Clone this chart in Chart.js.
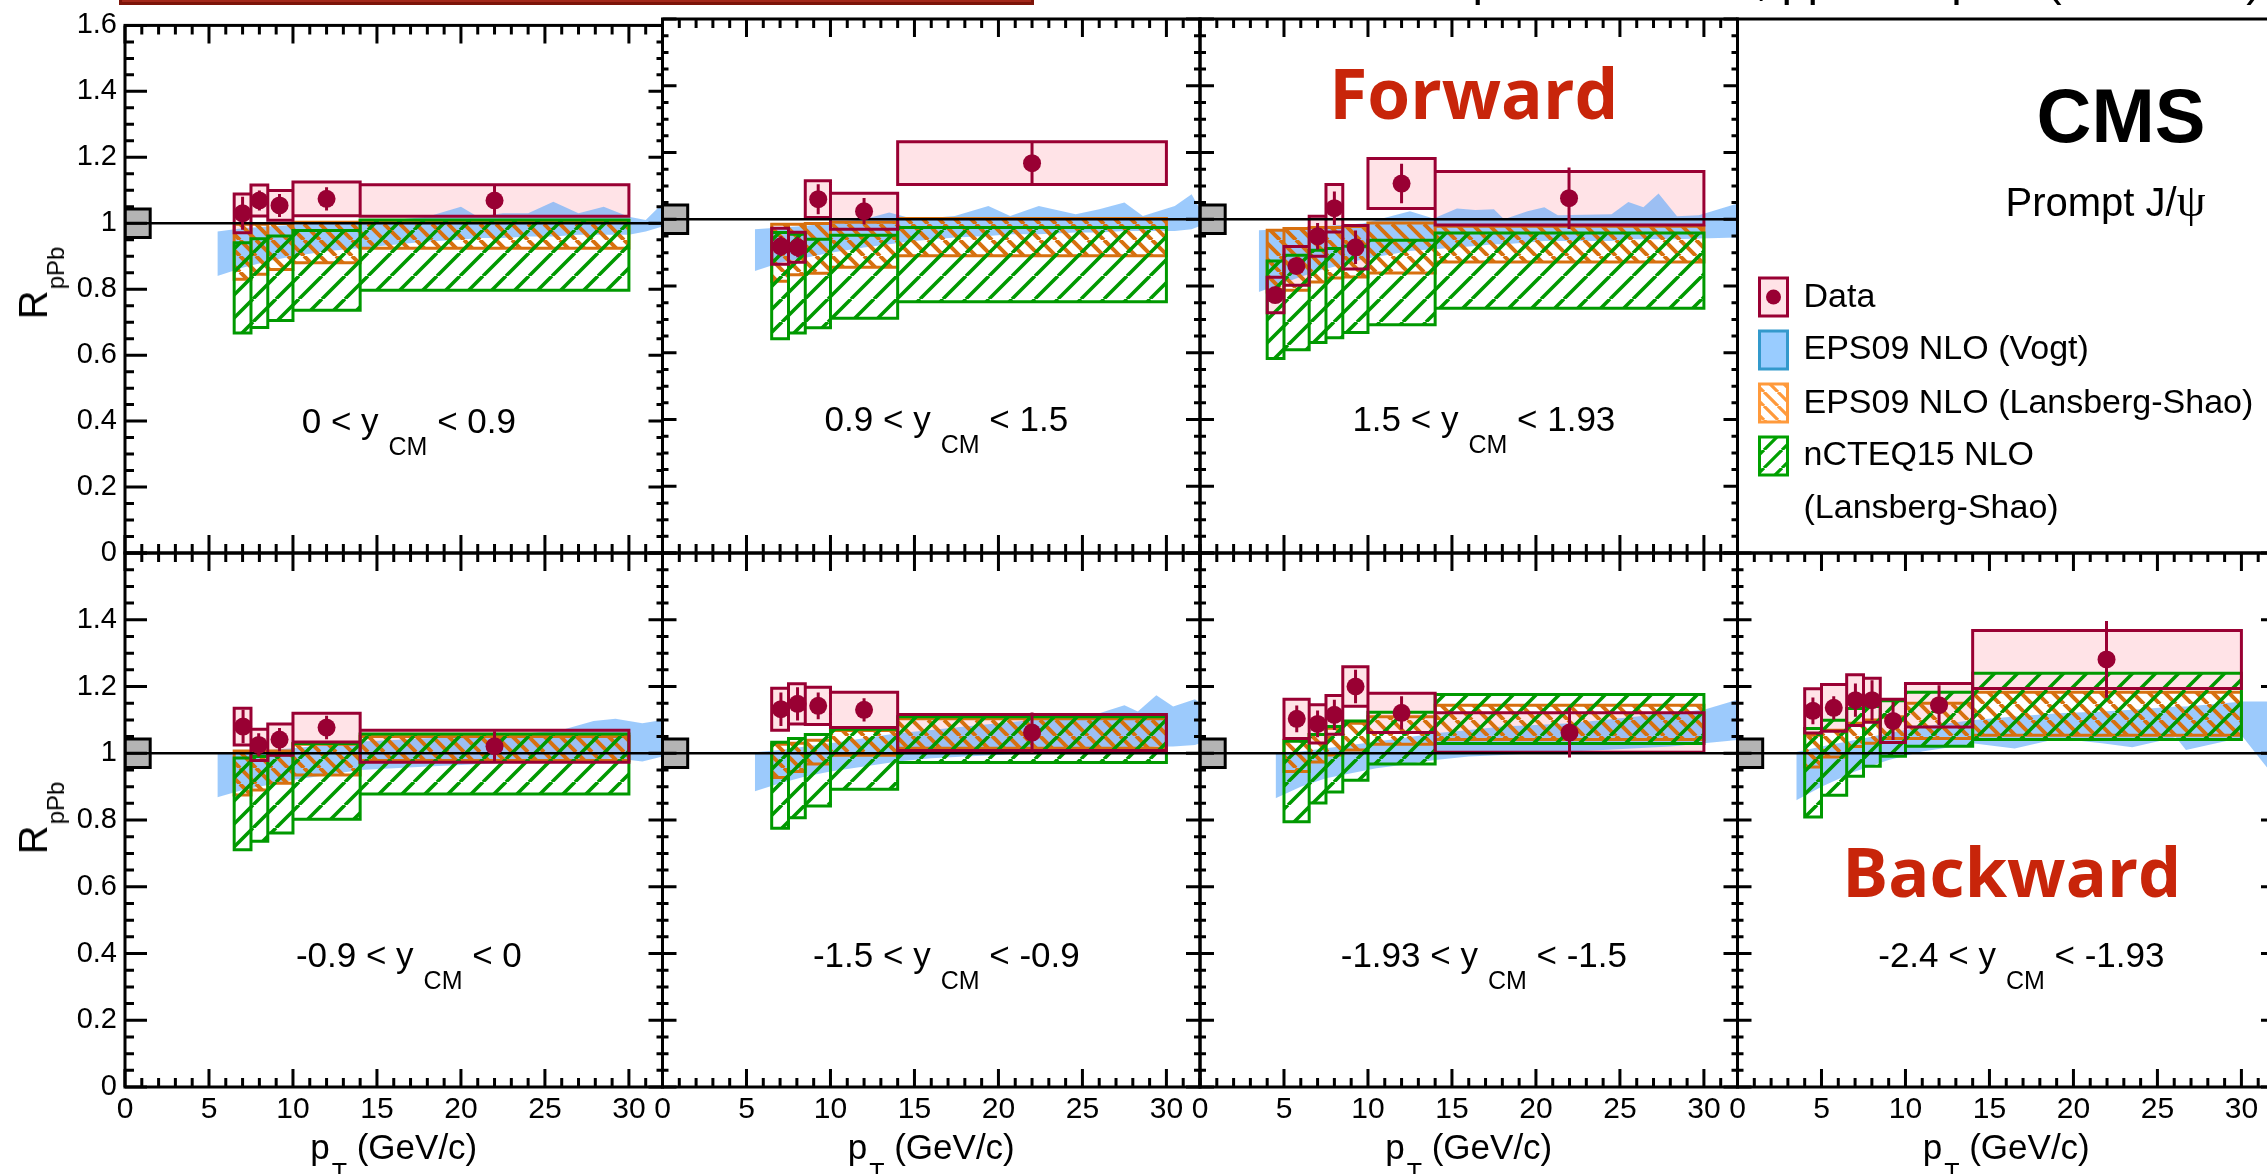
<!DOCTYPE html>
<html>
<head>
<meta charset="utf-8">
<script src="https://cdn.jsdelivr.net/npm/chart.js@4.4.1/dist/chart.umd.min.js"></script>
<style>
  html, body { margin: 0; padding: 0; background: #fff; overflow: hidden; }
  #page { position: relative; width: 2267px; height: 1174px; overflow: hidden; background: #fff; }
  #page canvas { position: absolute; left: 0; top: 0; }
  .t { position: absolute; white-space: nowrap; color: #000; }
  .sub { position: relative; }
</style>
</head>
<body>
<div id="page"></div>
<script>
// ---------- axis ticks / labels ----------
const xTickLabels = ['0', '5', '10', '15', '20', '25', '30'];
const yTickLabelsTop = ['0', '0.2', '0.4', '0.6', '0.8', '1', '1.2', '1.4', '1.6'];
const yTickLabelsBottom = ['0', '0.2', '0.4', '0.6', '0.8', '1', '1.2', '1.4'];
const yCmRanges = [['0', '0.9'], ['0.9', '1.5'], ['1.5', '1.93'],
                   ['-0.9', '0'], ['-1.5', '-0.9'], ['-1.93', '-1.5'], ['-2.4', '-1.93']];
const legendLabels = ['Data', 'EPS09 NLO (Vogt)', 'EPS09 NLO (Lansberg-Shao)', 'nCTEQ15 NLO', '(Lansberg-Shao)'];

// global uncertainty box drawn at low pT, around R = 1
const globalBoxPt = [0, 1.5];
const globalUnc = 0.043;
const unityLevel = 1;

// ---------- 0 < yCM < 0.9 ----------
const edges1 = [6.5, 7.5, 8.5, 10, 14, 30];
const pt1 = [7.0, 8.0, 9.2, 12.0, 22.0];
const r1 = [1.030, 1.069, 1.054, 1.074, 1.069];
const stat1 = [0.05, 0.03, 0.035, 0.035, 0.05];
const syst1 = [0.059, 0.047, 0.045, 0.051, 0.048];
const lsLo1 = [0.83, 0.845, 0.86, 0.88, 0.924];
const lsHi1 = [0.997, 0.997, 0.999, 1.003, 1.008];
const nctLo1 = [0.667, 0.684, 0.705, 0.736, 0.797];
const nctHi1 = [0.941, 0.953, 0.961, 0.978, 1.01];
const vogtPt1 = [5.5, 7, 8.5, 10, 12, 14, 16, 18, 20, 21, 22.5, 24, 25.5, 27, 28.5, 30, 31, 32];
const vogtLo1 = [0.84, 0.865, 0.885, 0.9, 0.915, 0.925, 0.935, 0.945, 0.95, 0.955, 0.955, 0.96, 0.96, 0.965, 0.965, 0.965, 0.975, 0.99];
const vogtHi1 = [0.975, 0.985, 0.99, 0.995, 1.0, 1.005, 1.01, 1.02, 1.05, 1.02, 1.03, 1.03, 1.065, 1.03, 1.05, 1.02, 1.01, 1.06];

// ---------- 0.9 < yCM < 1.5 ----------
const edges2 = [6.5, 7.5, 8.5, 10, 14, 30];
const pt2 = [7.05, 8.05, 9.27, 12.0, 22.0];
const r2 = [0.919, 0.916, 1.06, 1.024, 1.168];
const stat2 = [0.03, 0.03, 0.045, 0.04, 0.065];
const syst2 = [0.054, 0.045, 0.055, 0.054, 0.064];
const lsLo2 = [0.814, 0.834, 0.838, 0.856, 0.891];
const lsHi2 = [0.985, 0.985, 0.987, 0.991, 1.002];
const nctLo2 = [0.642, 0.659, 0.675, 0.703, 0.753];
const nctHi2 = [0.96, 0.955, 0.94, 0.952, 0.975];
const vogtPt2 = [5.5, 7, 8.5, 10, 12, 13.5, 15, 17.4, 19.4, 20.7, 22.4, 24.6, 26, 27.5, 28.6, 30.5, 31.5, 32];
const vogtLo2 = [0.845, 0.87, 0.885, 0.9, 0.915, 0.925, 0.935, 0.945, 0.95, 0.955, 0.955, 0.96, 0.96, 0.965, 0.965, 0.965, 0.97, 0.98];
const vogtHi2 = [0.97, 0.975, 0.98, 0.99, 1.0, 1.02, 1.0, 1.01, 1.04, 1.01, 1.04, 1.015, 1.03, 1.05, 1.01, 1.04, 1.075, 1.03];

// ---------- 1.5 < yCM < 1.93 ----------
const edges3 = [4, 5, 6.5, 7.5, 8.5, 10, 14, 30];
const pt3 = [4.48, 5.74, 7.0, 8.0, 9.26, 12.0, 21.97];
const r3 = [0.773, 0.860, 0.949, 1.033, 0.916, 1.107, 1.063];
const stat3 = [0.02, 0.02, 0.04, 0.05, 0.05, 0.059, 0.092];
const syst3 = [0.053, 0.058, 0.06, 0.071, 0.065, 0.075, 0.08];
const lsLo3 = [0.782, 0.787, 0.812, 0.824, 0.827, 0.839, 0.872];
const lsHi3 = [0.967, 0.972, 0.975, 0.975, 0.978, 0.989, 0.979];
const nctLo3 = [0.583, 0.609, 0.631, 0.645, 0.661, 0.684, 0.733];
const nctHi3 = [0.875, 0.892, 0.907, 0.912, 0.919, 0.937, 0.959];
const vogtPt3 = [3.5, 5, 7, 9.7, 12.5, 13.9, 15.3, 16.4, 17.5, 18.1, 19.5, 20.5, 21.3, 24.5, 25.5, 26.4, 27.3, 28.4, 29.7, 32];
const vogtLo3 = [0.782, 0.81, 0.845, 0.88, 0.905, 0.91, 0.915, 0.92, 0.925, 0.925, 0.93, 0.935, 0.935, 0.935, 0.94, 0.94, 0.94, 0.94, 0.942, 0.945];
const vogtHi3 = [0.967, 0.97, 0.978, 0.987, 1.024, 1.002, 1.032, 1.028, 1.03, 1.0, 1.024, 1.036, 1.012, 1.015, 1.052, 1.036, 1.077, 1.009, 1.012, 1.047];

// ---------- -0.9 < yCM < 0 ----------
const edges4 = [6.5, 7.5, 8.5, 10, 14, 30];
const pt4 = [7.03, 7.96, 9.2, 12.0, 22.0];
const r4 = [1.08, 1.025, 1.041, 1.077, 1.021];
const stat4 = [0.05, 0.035, 0.035, 0.035, 0.045];
const syst4 = [0.055, 0.047, 0.047, 0.043, 0.048];
const lsLo4 = [0.875, 0.89, 0.91, 0.935, 0.978];
const lsHi4 = [1.007, 1.007, 1.007, 1.027, 1.05];
const nctLo4 = [0.711, 0.736, 0.761, 0.802, 0.878];
const nctHi4 = [0.986, 0.99, 0.995, 1.029, 1.058];
const vogtPt4 = [5.5, 7, 8.5, 10, 12, 14, 16, 18, 20, 22, 24, 26, 27.9, 29.2, 30.8, 32];
const vogtLo4 = [0.868, 0.89, 0.905, 0.92, 0.935, 0.95, 0.955, 0.96, 0.965, 0.97, 0.975, 0.975, 0.98, 0.985, 0.975, 0.99];
const vogtHi4 = [1.0, 1.005, 1.01, 1.015, 1.025, 1.035, 1.04, 1.045, 1.05, 1.055, 1.06, 1.07, 1.097, 1.103, 1.09, 1.1];

// ---------- -1.5 < yCM < -0.9 ----------
const edges5 = [6.5, 7.5, 8.5, 10, 14, 30];
const pt5 = [7.05, 8.04, 9.27, 12.0, 22.0];
const r5 = [1.132, 1.148, 1.142, 1.13, 1.062];
const stat5 = [0.05, 0.05, 0.04, 0.035, 0.06];
const syst5 = [0.063, 0.06, 0.056, 0.053, 0.054];
const lsLo5 = [0.927, 0.945, 0.968, 0.994, 1.015];
const lsHi5 = [1.027, 1.03, 1.039, 1.068, 1.103];
const nctLo5 = [0.775, 0.807, 0.842, 0.892, 0.972];
const nctHi5 = [1.033, 1.044, 1.056, 1.072, 1.109];
const vogtPt5 = [5.5, 7, 8.5, 10, 12, 14, 16, 18, 20, 22, 24, 26, 27.5, 28.3, 29.4, 30.4, 31.7, 32];
const vogtLo5 = [0.886, 0.91, 0.93, 0.945, 0.96, 0.975, 0.985, 0.99, 0.995, 1.0, 1.005, 1.01, 1.015, 1.015, 1.02, 1.02, 1.025, 1.03];
const vogtHi5 = [1.003, 1.01, 1.02, 1.03, 1.045, 1.06, 1.07, 1.08, 1.09, 1.1, 1.11, 1.12, 1.144, 1.125, 1.174, 1.14, 1.162, 1.15];

// ---------- -1.93 < yCM < -1.5 ----------
const edges6 = [5, 6.5, 7.5, 8.5, 10, 14, 30];
const pt6 = [5.76, 7.0, 8.0, 9.26, 12.0, 22.0];
const r6 = [1.103, 1.088, 1.115, 1.2, 1.121, 1.062];
const stat6 = [0.04, 0.04, 0.045, 0.05, 0.05, 0.075];
const syst6 = [0.059, 0.057, 0.058, 0.059, 0.059, 0.059];
const lsLo6 = [0.945, 0.974, 0.995, 1.01, 1.027, 1.041];
const lsHi6 = [1.039, 1.056, 1.075, 1.09, 1.109, 1.144];
const nctLo6 = [0.795, 0.851, 0.884, 0.919, 0.968, 1.029];
const nctHi6 = [1.036, 1.056, 1.08, 1.097, 1.123, 1.176];
const vogtPt6 = [4.5, 6, 7.5, 9, 10.5, 12, 14, 16, 18, 20, 22, 24, 26, 28, 30, 32];
const vogtLo6 = [0.865, 0.9, 0.925, 0.94, 0.955, 0.965, 0.98, 0.99, 0.995, 1.0, 1.005, 1.01, 1.015, 1.02, 1.03, 1.04];
const vogtHi6 = [1.0, 1.005, 1.015, 1.025, 1.035, 1.045, 1.06, 1.07, 1.08, 1.085, 1.09, 1.1, 1.11, 1.12, 1.13, 1.16];

// ---------- -2.4 < yCM < -1.93 ----------
const edges7 = [4, 5, 6.5, 7.5, 8.5, 10, 14, 30];
const pt7 = [4.49, 5.73, 7.02, 8.01, 9.26, 12.0, 21.97];
const r7 = [1.127, 1.136, 1.159, 1.159, 1.097, 1.144, 1.281];
const stat7 = [0.04, 0.035, 0.05, 0.06, 0.057, 0.06, 0.115];
const syst7 = [0.066, 0.07, 0.076, 0.066, 0.065, 0.065, 0.087];
const lsLo7 = [0.959, 0.989, 1.02, 1.03, 1.044, 1.044, 1.054];
const lsHi7 = [1.054, 1.069, 1.09, 1.1, 1.109, 1.15, 1.183];
const nctLo7 = [0.809, 0.874, 0.931, 0.961, 0.991, 1.021, 1.041];
const nctHi7 = [1.074, 1.099, 1.134, 1.14, 1.157, 1.183, 1.24];
const vogtPt7 = [3.5, 5, 7, 9, 11, 14.1, 16.5, 19.1, 21.7, 23.5, 26.1, 26.7, 30.1, 31.5, 32];
const vogtLo7 = [0.859, 0.9, 0.945, 0.98, 1.005, 1.029, 1.014, 1.044, 1.03, 1.018, 1.048, 1.01, 1.048, 0.959, 0.93];
const vogtHi7 = [1.004, 1.02, 1.04, 1.06, 1.08, 1.1, 1.11, 1.12, 1.125, 1.13, 1.14, 1.14, 1.155, 1.155, 1.14];

// ---------- styling ----------
const RED = '#990033';
const PINK = '#ffe3e7';
const VOGT = 'rgba(95,170,250,0.62)';
const ORANGE = '#d7700f';
const GREEN = '#009900';

Chart.defaults.font.family = 'Liberation Sans';
Chart.defaults.color = '#000';
Chart.defaults.elements.point.radius = 0;
Chart.defaults.elements.point.hoverRadius = 0;
Chart.defaults.elements.line.tension = 0;
Chart.defaults.elements.line.borderCapStyle = 'square';
Chart.defaults.elements.line.borderJoinStyle = 'miter';

function hatch(color, spacing, width, dir) {
  const c = document.createElement('canvas');
  c.width = c.height = spacing;
  const g = c.getContext('2d');
  g.strokeStyle = color;
  g.lineWidth = width;
  g.beginPath();
  for (let k = -1; k <= 1; k++) {
    if (dir > 0) { g.moveTo(k * spacing, spacing); g.lineTo((k + 1) * spacing, 0); }
    else { g.moveTo(k * spacing, 0); g.lineTo((k + 1) * spacing, spacing); }
  }
  g.stroke();
  return g.createPattern(c, 'repeat');
}
const orangeHatch = hatch(ORANGE, 16, 4, -1);
const greenHatch = hatch(GREEN, 23, 3.6, 1);
const orangeLegendHatch = hatch('#ff9a3c', 14, 3.2, -1);
const greenLegendHatch = hatch('#00a000', 18, 3.2, 1);

// stepped edge over the bins, used as fill boundary
function steps(edges, vals) {
  const out = [];
  vals.forEach((v, i) => out.push({x: edges[i], y: v}, {x: edges[i + 1], y: v}));
  return out;
}
// one closed rectangle per bin, separated by gaps
function rects(edges, lo, hi) {
  const out = [];
  lo.forEach((l, i) => {
    const a = edges[i], b = edges[i + 1], h = hi[i];
    out.push({x: a, y: l}, {x: a, y: h}, {x: b, y: h}, {x: b, y: l}, {x: a, y: l}, {x: b, y: null});
  });
  return out;
}
function band(xs, lo, hi, color, order) {
  return [
    {data: xs.map((x, i) => ({x, y: hi[i]})), fill: '+1', backgroundColor: color, borderWidth: 0, borderColor: 'transparent', order},
    {data: xs.map((x, i) => ({x, y: lo[i]})), fill: false, borderWidth: 0, borderColor: 'transparent', order}
  ];
}
function binBand(edges, lo, hi, color, order) {
  return [
    {data: steps(edges, hi), fill: '+1', backgroundColor: color, borderWidth: 0, borderColor: 'transparent', order},
    {data: steps(edges, lo), fill: false, borderWidth: 0, borderColor: 'transparent', order}
  ];
}
function outline(edges, lo, hi, color, width, order) {
  return {data: rects(edges, lo, hi), fill: false, borderColor: color, borderWidth: width, order};
}

function panelDatasets(p) {
  const sLo = p.r.map((v, i) => v - p.syst[i]);
  const sHi = p.r.map((v, i) => v + p.syst[i]);
  const gLo = [unityLevel - globalUnc], gHi = [unityLevel + globalUnc];
  return [
    ...binBand(p.edges, sLo, sHi, PINK, 20),
    ...band(p.vPt, p.vLo, p.vHi, VOGT, 18),
    ...binBand(p.edges, p.lsLo, p.lsHi, orangeHatch, 16),
    outline(p.edges, p.lsLo, p.lsHi, ORANGE, 3, 15),
    ...binBand(p.edges, p.nLo, p.nHi, greenHatch, 14),
    outline(p.edges, p.nLo, p.nHi, GREEN, 3, 13),
    outline(p.edges, sLo, sHi, RED, 3, 12),
    ...binBand(globalBoxPt, gLo, gHi, '#b4b4b4', 11),
    outline(globalBoxPt, gLo, gHi, '#000', 3, 10),
    {data: [{x: 0, y: unityLevel}, {x: 32, y: unityLevel}], borderColor: '#000', borderWidth: 2.5, borderCapStyle: 'butt', order: 9},
    {data: p.pt.flatMap((x, i) => [{x, y: p.r[i] - p.stat[i]}, {x, y: p.r[i] + p.stat[i]}, {x, y: null}]),
     borderColor: RED, borderWidth: 3, borderCapStyle: 'butt', order: 8},
    {data: p.pt.map((x, i) => ({x, y: p.r[i]})), showLine: false, pointRadius: 9, pointHoverRadius: 9,
     pointBackgroundColor: RED, pointBorderWidth: 0, order: 7}
  ];
}

const panels = [
  {col: 0, row: 0, edges: edges1, pt: pt1, r: r1, stat: stat1, syst: syst1, lsLo: lsLo1, lsHi: lsHi1, nLo: nctLo1, nHi: nctHi1, vPt: vogtPt1, vLo: vogtLo1, vHi: vogtHi1, range: yCmRanges[0]},
  {col: 1, row: 0, edges: edges2, pt: pt2, r: r2, stat: stat2, syst: syst2, lsLo: lsLo2, lsHi: lsHi2, nLo: nctLo2, nHi: nctHi2, vPt: vogtPt2, vLo: vogtLo2, vHi: vogtHi2, range: yCmRanges[1]},
  {col: 2, row: 0, edges: edges3, pt: pt3, r: r3, stat: stat3, syst: syst3, lsLo: lsLo3, lsHi: lsHi3, nLo: nctLo3, nHi: nctHi3, vPt: vogtPt3, vLo: vogtLo3, vHi: vogtHi3, range: yCmRanges[2]},
  {col: 0, row: 1, edges: edges4, pt: pt4, r: r4, stat: stat4, syst: syst4, lsLo: lsLo4, lsHi: lsHi4, nLo: nctLo4, nHi: nctHi4, vPt: vogtPt4, vLo: vogtLo4, vHi: vogtHi4, range: yCmRanges[3]},
  {col: 1, row: 1, edges: edges5, pt: pt5, r: r5, stat: stat5, syst: syst5, lsLo: lsLo5, lsHi: lsHi5, nLo: nctLo5, nHi: nctHi5, vPt: vogtPt5, vLo: vogtLo5, vHi: vogtHi5, range: yCmRanges[4]},
  {col: 2, row: 1, edges: edges6, pt: pt6, r: r6, stat: stat6, syst: syst6, lsLo: lsLo6, lsHi: lsHi6, nLo: nctLo6, nHi: nctHi6, vPt: vogtPt6, vLo: vogtLo6, vHi: vogtHi6, range: yCmRanges[5]},
  {col: 3, row: 1, edges: edges7, pt: pt7, r: r7, stat: stat7, syst: syst7, lsLo: lsLo7, lsHi: lsHi7, nLo: nctLo7, nHi: nctHi7, vPt: vogtPt7, vLo: vogtLo7, vHi: vogtHi7, range: yCmRanges[6]}
];

// ---------- frame, ROOT-style inward ticks, legend symbols ----------
function drawLegend(ctx, a) {
  const x = a.left + 22, w = 28, h = 38;
  const tops = [259, 312, 365, 418].map(t => a.top + t);
  ctx.lineWidth = 3;
  ctx.fillStyle = PINK; ctx.fillRect(x, tops[0], w, h);
  ctx.strokeStyle = RED; ctx.strokeRect(x, tops[0], w, h);
  ctx.beginPath(); ctx.arc(x + w / 2, tops[0] + h / 2, 7.5, 0, Math.PI * 2); ctx.fillStyle = RED; ctx.fill();
  ctx.fillStyle = '#99ccff'; ctx.fillRect(x, tops[1], w, h);
  ctx.strokeStyle = '#3399cc'; ctx.strokeRect(x, tops[1], w, h);
  ctx.fillStyle = orangeLegendHatch; ctx.fillRect(x, tops[2], w, h);
  ctx.strokeStyle = '#ff9a3c'; ctx.strokeRect(x, tops[2], w, h);
  ctx.fillStyle = greenLegendHatch; ctx.fillRect(x, tops[3], w, h);
  ctx.strokeStyle = '#00a000'; ctx.strokeRect(x, tops[3], w, h);
}

const framePlugin = {
  id: 'frame',
  afterDatasetsDraw(chart, args, opts) {
    const {ctx, chartArea: a} = chart;
    const xs = chart.scales.x, ys = chart.scales.y;
    ctx.save();
    ctx.strokeStyle = '#000';
    ctx.lineWidth = 3;
    ctx.lineCap = 'butt';
    const t = opts.ticks;
    if (t) {
      ctx.beginPath();
      for (let v = 0; v <= 32; v += 1) {
        const px = xs.getPixelForValue(v), len = v % 5 === 0 ? t.x[0] : t.x[1];
        ctx.moveTo(px, a.top); ctx.lineTo(px, a.top + len);
        ctx.moveTo(px, a.bottom); ctx.lineTo(px, a.bottom - len);
      }
      for (let k = 0; k <= 32; k++) {
        const py = ys.getPixelForValue(k * 0.05), major = k % 4 === 0;
        ctx.moveTo(a.left, py); ctx.lineTo(a.left + (major ? t.left[0] : t.left[1]), py);
        ctx.moveTo(a.right, py); ctx.lineTo(a.right - (major ? t.right[0] : t.right[1]), py);
      }
      ctx.stroke();
    }
    ctx.strokeRect(a.left, a.top, a.width, a.height);
    if (opts.legend) drawLegend(ctx, a);
    ctx.restore();
  }
};

// ---------- layout ----------
const page = document.getElementById('page');
const W = 2400, H = 1174;
const colW = 537.5;
const colLeft = c => 125 + c * colW;
const rowTop = [19, 553], rowBottom = [553, 1087];

function makeChart(cfg) {
  const canvas = document.createElement('canvas');
  canvas.width = W; canvas.height = H;
  page.appendChild(canvas);
  const left = colLeft(cfg.col), right = left + colW;
  const top = rowTop[cfg.row], bottom = rowBottom[cfg.row];
  const showY = cfg.col === 0, showX = cfg.row === 1 && !cfg.legend;
  const yLabels = cfg.row === 0 ? yTickLabelsTop : yTickLabelsBottom;
  return new Chart(canvas, {
    type: 'line',
    data: {datasets: cfg.datasets},
    options: {
      responsive: false, animation: false, events: [], devicePixelRatio: 1,
      layout: {padding: {left: showY ? left - 100 : left, right: W - right, top, bottom: showX ? H - bottom - 60 : H - bottom}},
      plugins: {legend: {display: false}, tooltip: {enabled: false},
                frame: {ticks: cfg.ticks, legend: cfg.legend}},
      scales: {
        x: {type: 'linear', min: 0, max: 32, display: showX,
            grid: {display: false, drawTicks: false}, border: {display: false},
            ticks: {font: {size: 30}, padding: 5, maxRotation: 0, minRotation: 0, autoSkip: false,
                    callback: (v, i) => xTickLabels[i]},
            afterBuildTicks: s => { s.ticks = xTickLabels.map(l => ({value: parseFloat(l)})); },
            afterFit: s => { if (showX) s.height = 60; }},
        y: {type: 'linear', min: 0, max: 1.6, display: showY,
            grid: {display: false, drawTicks: false}, border: {display: false},
            ticks: {font: {size: 29}, padding: 8, autoSkip: false, callback: (v, i) => yLabels[i]},
            afterBuildTicks: s => { s.ticks = yLabels.map(l => ({value: parseFloat(l)})); },
            afterFit: s => { if (showY) s.width = 100; }}
      }
    },
    plugins: [framePlugin]
  });
}

const charts = panels.map(p => makeChart({
  col: p.col, row: p.row, datasets: panelDatasets(p),
  ticks: {x: [18, 9], left: p.col === 0 ? [22, 9] : [14, 6], right: [14, 6]}
}));
const legendChart = makeChart({col: 3, row: 0, datasets: [], ticks: null, legend: true});

// ---------- text ----------
const mctx = document.createElement('canvas').getContext('2d');
function addText(html, x, base, size, o = {}) {
  const font = `${o.weight || 'normal'} ${size}px "${o.family || 'Liberation Sans'}"`;
  mctx.font = font;
  const m = mctx.measureText('Hg');
  const asc = m.fontBoundingBoxAscent, desc = m.fontBoundingBoxDescent;
  const d = document.createElement('div');
  d.className = 't';
  d.innerHTML = html;
  d.style.font = font;
  d.style.lineHeight = (asc + desc) + 'px';
  d.style.left = x + 'px';
  d.style.top = (base - asc) + 'px';
  if (o.color) d.style.color = o.color;
  const shift = o.align === 'center' ? -50 : o.align === 'right' ? -100 : 0;
  d.style.transform = `translateX(${shift}%)`;
  page.appendChild(d);
  return d;
}
function fitSize(text, width, weight, family) {
  mctx.font = `${weight} 100px "${family}"`;
  return 100 * width / mctx.measureText(text).width;
}
const sub = (txt, size, drop, gap) =>
  `<span class="sub" style="font-size:${size}px;top:${drop}px;margin-left:${gap}px">${txt}</span>`;

// rapidity labels
charts.forEach((ch, i) => {
  const [lo, hi] = panels[i].range;
  const x = ch.scales.x.getPixelForValue(16.9);
  const y = ch.scales.y.getPixelForValue(panels[i].row === 0 ? 0.365 : 0.359);
  addText(`${lo} &lt; y${sub('CM', 25, 22, 10)} &lt; ${hi}`, x, y, 35, {align: 'center'});
});

// x axis titles
charts.forEach((ch, i) => {
  if (panels[i].row !== 1) return;
  const a = ch.chartArea;
  addText(`p${sub('T', 25, 22, 2)} (GeV/c)`, (a.left + a.right) / 2, 1159, 35, {align: 'center'});
});

// y axis titles (rotated)
[283, 818].forEach(cy => {
  const d = addText(`R${sub('pPb', 24, 17, 1)}`, 0, 0, 40);
  d.style.left = '36px';
  d.style.top = cy + 'px';
  d.style.transform = 'translate(-50%, -50%) rotate(-90deg)';
});

// Forward / Backward
{
  const fw = charts[2], bw = charts[6];
  const fs = fitSize('Forward', 289, 'bold', 'Open Sans');
  addText('Forward', fw.scales.x.getPixelForValue(16.3), fw.scales.y.getPixelForValue(1.30), fs,
          {weight: 'bold', family: 'Open Sans', color: '#c8250a', align: 'center'});
  const bs = fitSize('Backward', 339, 'bold', 'Open Sans');
  addText('Backward', bw.scales.x.getPixelForValue(16.33), bw.scales.y.getPixelForValue(0.57), bs,
          {weight: 'bold', family: 'Open Sans', color: '#c8250a', align: 'center'});
}

// CMS label and legend text
{
  const a = legendChart.chartArea;
  addText('CMS', a.left + 299, a.top + 123, 76, {weight: 'bold'});
  addText('Prompt J/<span style="font-family:\'Liberation Serif\';font-size:46px">&psi;</span>', a.left + 468, a.top + 196, 40, {align: 'right'});
  const bases = [288, 340, 393.5, 446, 499];
  legendLabels.forEach((l, i) => addText(l, a.left + 66, a.top + bases[i], 34));
}

// cut-off header above the frame
{
  const box = document.createElement('div');
  box.style.cssText = 'position:absolute;left:119px;top:-30px;width:909px;height:29px;background:#a3281a;border:3px solid #7d1409;';
  page.appendChild(box);
  addText(`pPb 34.6 nb${'<span class="sub" style="font-size:33px;top:-18px">-1</span>'}, pp 28.0 pb${'<span class="sub" style="font-size:33px;top:-18px">-1</span>'} (5.02 TeV)`,
          2262, -5.5, 47, {align: 'right'});
}
</script>
</body>
</html>
